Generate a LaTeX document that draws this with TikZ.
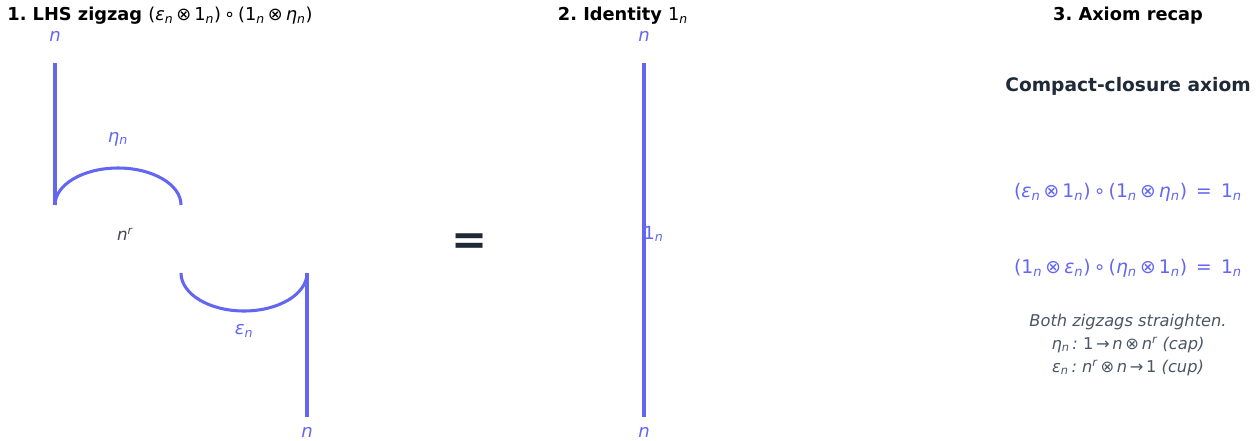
\documentclass[tikz,border=0pt]{standalone}
\usepackage{fontspec}
\setmainfont{DejaVu Sans}
\usepackage{tikz}
\usetikzlibrary{positioning,calc}
\definecolor{wireblue}{HTML}{6366F1}
\definecolor{darkink}{HTML}{1F2937}
\definecolor{noteink}{HTML}{4B5563}
\newcommand{\sbn}{\textsubscript{\itshape n}}
\newcommand{\spr}{\textsuperscript{\itshape r}}
\newcommand{\epsn}{\textit{ε}\sbn}
\newcommand{\etan}{\textit{η}\sbn}
\newcommand{\idn}{1\sbn}
\frenchspacing

\begin{document}
\begin{tikzpicture}[
    x=0.72pt, y=-0.72pt,
    wire/.style={draw=wireblue, line width=2.2pt},
    wirelabel/.style={text=wireblue, font=\fontsize{13}{15}\selectfont\itshape, inner sep=0pt},
    title/.style={font=\fontsize{12.8}{15}\selectfont\bfseries, text=black, inner sep=0pt},
    eqn/.style={text=wireblue, font=\fontsize{13.5}{16}\selectfont, inner sep=0pt},
    note/.style={text=noteink, font=\fontsize{11.7}{16.5}\selectfont\itshape, inner sep=0pt, align=center}
  ]
  \useasboundingbox (0,0) rectangle (1260,440);

  % titles
  \node[title] (t1) at (160,16) {1. LHS zigzag \mdseries(\epsn\,⊗\,\idn)\,∘\,(\idn\,⊗\,\etan)};
  \node[title] (t2) at (623,16) {2. Identity \mdseries\idn};
  \node[title] (t3) at (1128,16) {3. Axiom recap};

  % zigzag
  \coordinate (atop) at (55,63);
  \coordinate (capl) at (55,205);
  \coordinate (capr) at (181,205);
  \coordinate (cupl) at (181,273);
  \coordinate (cupr) at (307,273);
  \coordinate (abot) at (307,417);
  \node[wirelabel] (nin) at (55,36) {n};
  \node[wirelabel] (nout) at (307,432) {n};
  \node[wirelabel] (eta) at (118,139) {\etan};
  \node[wirelabel] (eps) at (244,331) {\epsn};
  \node[wirelabel, text=darkink!85, font=\fontsize{12}{14}\selectfont\itshape] (nr) at (125,234) {n\spr};
  \draw[wire] (atop) -- (capl);
  \draw[wire] (capl) arc[start angle=180, end angle=360, x radius=63, y radius=37];
  \draw[wire] (cupl) arc[start angle=180, end angle=0, x radius=63, y radius=38];
  \draw[wire] (cupr) -- (abot);

  \node[text=darkink, font=\fontsize{31}{34}\selectfont\bfseries, inner sep=0pt] (eq) at (470,244) {=};

  % identity
  \coordinate (itop) at (644,63);
  \coordinate (ibot) at (644,417);
  \node[wirelabel] (iin) at (644,36) {n};
  \node[wirelabel] (iout) at (644,432) {n};
  \draw[wire] (itop) -- (ibot);
  \node[wirelabel, font=\fontsize{13}{15}\selectfont, anchor=west] (idlab) at (643,234) {\idn};

  % recap
  \node[font=\fontsize{13.4}{16}\selectfont\bfseries, text=darkink, inner sep=0pt] (head) at (1128,86) {Compact-closure axiom};
  \node[eqn] (ax1) at (1128,192) {(\epsn\,⊗\,\idn)\,∘\,(\idn\,⊗\,\etan) \,=\, \idn};
  \node[eqn] (ax2) at (1128,268) {(\idn\,⊗\,\epsn)\,∘\,(\etan\,⊗\,\idn) \,=\, \idn};
  \node[note] (rem) at (1128,345) {Both zigzags straighten.\\\etan\,: \textup{1}\,→\,n\,⊗\,n\spr{} (cap)\\\epsn\,: n\spr\,⊗\,n\,→\,\textup{1} (cup)};
\end{tikzpicture}
\end{document}
